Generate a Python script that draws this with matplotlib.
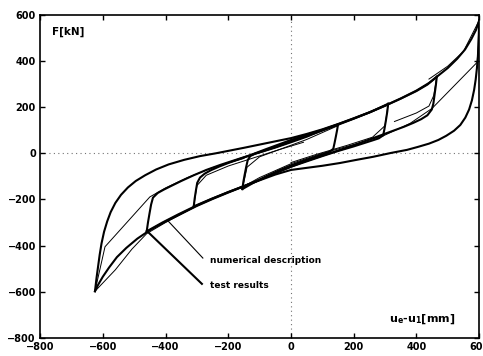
import matplotlib
matplotlib.use('Agg')
import matplotlib.pyplot as plt

# test results (thick): descending branches from the positive peaks,
# ascending branches from the negative peaks
down1_x = [150, 147, 143, 139, 135, 125, 110, 80, 40, 0, -40, -80, -120, -155]
down1_y = [125, 100, 72, 45, 20, 8, 0, -14, -32, -52, -75, -100, -128, -155]
up1_x = [-155, -152, -148, -143, -138, -130, -115, -90, -50, 0, 50, 100, 150]
up1_y = [-155, -125, -95, -60, -30, -12, -2, 8, 25, 48, 72, 100, 125]

down2_x = [310, 307, 303, 298, 294, 280, 260, 230, 200, 150, 100, 50, 0, -50,
           -100, -150, -200, -255, -310]
down2_y = [215, 180, 145, 105, 78, 65, 56, 43, 30, 10, -12, -35, -58, -86,
           -115, -142, -168, -198, -230]
up2_x = [-310, -307, -303, -299, -290, -275, -255, -230, -200, -150, -100, -50,
         0, 50, 100, 150, 200, 255, 310]
up2_y = [-230, -195, -160, -128, -105, -88, -73, -58, -42, -18, 5, 27,
         52, 75, 99, 124, 150, 180, 215]

down3_x = [465, 462, 458, 454, 449, 435, 415, 390, 360, 320, 280, 240, 200, 150,
           100, 50, 0, -50, -100, -150, -200, -250, -310, -360, -410, -460]
down3_y = [332, 295, 255, 215, 190, 165, 148, 132, 115, 95, 75, 55, 35, 12,
           -10, -32, -58, -85, -115, -142, -168, -196, -232, -265, -300, -338]
up3_x = [-460, -456, -451, -446, -440, -425, -405, -380, -350, -310, -270, -225,
         -180, -130, -80, -40, 0, 50, 100, 150, 200, 250, 300, 350, 400, 435, 465]
up3_y = [-338, -300, -260, -222, -192, -172, -157, -140, -120, -95, -72, -50,
         -30, -8, 18, 38, 58, 80, 102, 126, 151, 177, 206, 237, 270, 298, 332]

down4_x = [600, 599, 598, 596, 593, 589, 584, 577, 568, 556, 540, 520, 495, 470,
           440, 405, 370, 320, 262, 210, 156, 100, 50, 0, -50, -100, -150, -200,
           -250, -300, -350, -400, -450, -490, -525, -555, -580, -600, -615, -625]
down4_y = [576, 520, 470, 420, 370, 320, 275, 230, 190, 155, 123, 98, 76, 58,
           42, 28, 15, 2, -15, -28, -42, -54, -63, -72, -92, -117, -143, -170,
           -198, -228, -262, -296, -333, -370, -410, -450, -495, -535, -570, -598]
up4_x = [-625, -620, -615, -610, -604, -596, -586, -575, -560, -542, -520, -495,
         -465, -430, -390, -340, -290, -240, -195, -150, -100, -50, 0, 50, 100,
         150, 200, 250, 300, 350, 400, 440, 465, 500, 530, 555, 575, 590, 600]
up4_y = [-598, -540, -490, -440, -390, -340, -295, -255, -215, -180, -148, -120,
         -95, -70, -48, -28, -12, 0, 12, 24, 38, 52, 66, 84, 104,
         127, 152, 178, 207, 238, 272, 305, 332, 370, 410, 450, 495, 535, 576]

test_x = [down1_x, up1_x, down2_x, up2_x, down3_x, up3_x, down4_x, up4_x]
test_y = [down1_y, up1_y, down2_y, up2_y, down3_y, up3_y, down4_y, up4_y]

# numerical description (thin, polygonal)
num1_x = [-625, -593, -450, -400, -330, -250, -150]
num1_y = [-598, -405, -189, -150, -105, -62, -22]
num2_x = [-625, -560, -507, -460, -400, -310]
num2_y = [-598, -505, -415, -348, -300, -235]
num3_x = [600, 594, 450, 380, 293, 200, 100, 0, -100, -160]
num3_y = [576, 395, 195, 130, 75, 38, 0, -45, -105, -150]
num4_x = [440, 500, 550, 600]
num4_y = [322, 378, 442, 576]
num5_x = [-310, -300, -270, -200, -120, -40, 40]
num5_y = [-230, -140, -95, -55, -20, 15, 48]
num6_x = [-155, -140, -100, -30, 50, 150]
num6_y = [-155, -60, -15, 20, 60, 120]
num7_x = [310, 300, 260, 180, 80, 0]
num7_y = [215, 120, 70, 35, -5, -40]
num8_x = [465, 455, 440, 400, 330]
num8_y = [332, 250, 205, 175, 138]

num_x = [num1_x, num2_x, num3_x, num4_x, num5_x, num6_x, num7_x, num8_x]
num_y = [num1_y, num2_y, num3_y, num4_y, num5_y, num6_y, num7_y, num8_y]

ticks = [-800, -600, -400, -200, 0, 200, 400, 600]

fig = plt.figure(figsize=(4.83, 3.56), dpi=100)
ax = fig.add_axes([0.083, 0.051, 0.909, 0.907])

ax.axhline(0, color='0.45', ls=(0, (1, 3)), lw=0.8, zorder=1)
ax.axvline(0, color='0.45', ls=(0, (1, 3)), lw=0.8, zorder=1)

for xs, ys in zip(num_x, num_y):
    ax.plot(xs, ys, color='black', lw=0.7, zorder=2)
for xs, ys in zip(test_x, test_y):
    ax.plot(xs, ys, color='black', lw=1.5, zorder=3, solid_joinstyle='round')

# leader lines and labels
ax.plot([-392, -281], [-293, -454], color='black', lw=0.8)
ax.plot([-459, -284], [-337, -566], color='black', lw=1.5)
ax.text(-258, -466, 'numerical description', fontsize=6.5, fontweight='bold',
        va='center', ha='left')
ax.text(-258, -574, 'test results', fontsize=6.5, fontweight='bold',
        va='center', ha='left')
ax.text(-762, 525, 'F[kN]', fontsize=7.5, fontweight='bold', va='center', ha='left')
ax.text(312, -720, r'u$_\mathregular{e}$-u$_\mathregular{1}$[mm]', fontsize=8,
        fontweight='bold', va='center', ha='left')

ax.set_xlim(-800, 600)
ax.set_ylim(-800, 600)
ax.set_xticks(ticks)
ax.set_yticks(ticks)
ax.tick_params(direction='in', length=3.5, width=1.0, top=True, right=True,
               labelsize=7, pad=3)
for lab in ax.get_xticklabels() + ax.get_yticklabels():
    lab.set_fontweight('bold')
for s in ax.spines.values():
    s.set_linewidth(1.2)

fig.savefig('out.png', dpi=100)
